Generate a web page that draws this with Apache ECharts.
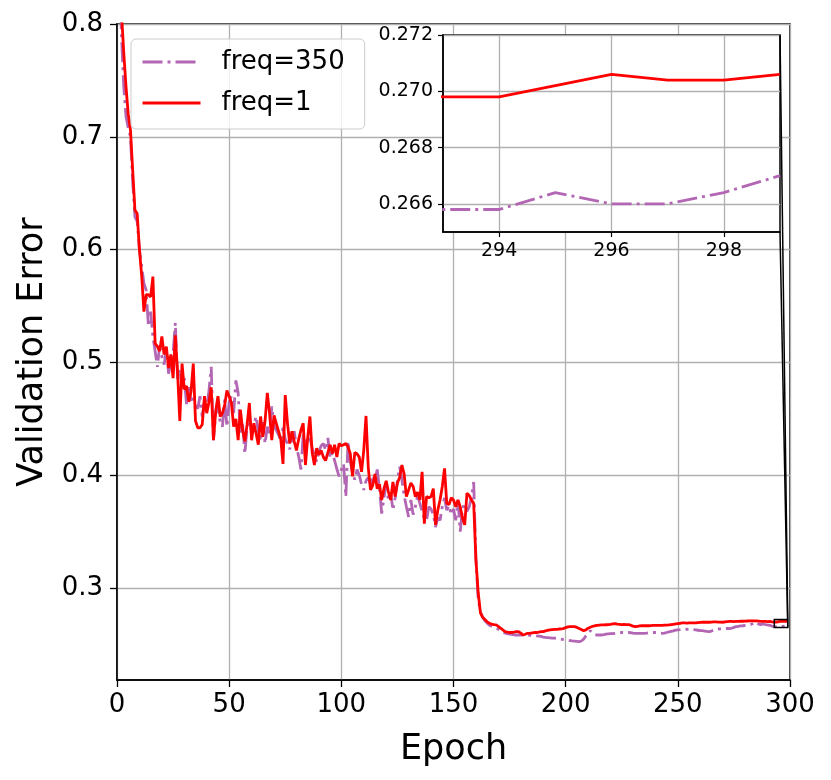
<!DOCTYPE html>
<html lang="en">
<head>
  <meta charset="UTF-8">
  <title>Validation Error</title>
  <style type="text/css">
    html, body { margin: 0; padding: 0; background: #fff; }
    #main { width: 831px; height: 780px; }
  </style>
</head>
<body>
  <div id="main"></div>
</body>
<script type="text/javascript" src="https://cdn.jsdelivr.net/npm/echarts@6/dist/echarts.min.js"></script>
<script type="text/javascript">
  // validation error per epoch (index = epoch)
  var freq350 = [
    0.93, 0.85, 0.79, 0.745, 0.718, 0.708, 0.70, 0.66, 0.629, 0.625,
    0.60, 0.585, 0.570, 0.564, 0.532, 0.545, 0.523, 0.510, 0.496, 0.515,
    0.505, 0.498, 0.512, 0.490, 0.500, 0.508, 0.535, 0.485, 0.494, 0.477,
    0.486, 0.463, 0.478, 0.466, 0.471, 0.462, 0.459, 0.470, 0.452, 0.466,
    0.460, 0.475, 0.496, 0.431, 0.455, 0.462, 0.447, 0.443, 0.467, 0.443,
    0.465, 0.470, 0.455, 0.484, 0.473, 0.437, 0.445, 0.419, 0.443, 0.450,
    0.438, 0.445, 0.452, 0.438, 0.430, 0.447, 0.428, 0.443, 0.435, 0.461,
    0.444, 0.440, 0.436, 0.430, 0.442, 0.432, 0.428, 0.423, 0.432, 0.439,
    0.425, 0.4165, 0.405, 0.436, 0.430, 0.428, 0.433, 0.424, 0.418, 0.412,
    0.421, 0.426, 0.428, 0.422, 0.433, 0.415, 0.420, 0.413, 0.4055, 0.399,
    0.405, 0.410, 0.381, 0.430, 0.412, 0.402, 0.396, 0.405, 0.400, 0.392,
    0.387, 0.395, 0.398, 0.392, 0.400, 0.396, 0.405, 0.388, 0.366, 0.380,
    0.392, 0.378, 0.385, 0.369, 0.380, 0.395, 0.4075, 0.396, 0.382, 0.372,
    0.363, 0.378, 0.365, 0.372, 0.382, 0.375, 0.368, 0.361, 0.360, 0.372,
    0.370, 0.365, 0.354, 0.362, 0.360, 0.372, 0.380, 0.369, 0.373, 0.365,
    0.370, 0.360, 0.378, 0.350, 0.370, 0.375, 0.368, 0.372, 0.380, 0.394,
    0.325, 0.290, 0.279, 0.274, 0.271, 0.269, 0.267, 0.266, 0.265, 0.2645,
    0.2635, 0.2620, 0.2610, 0.2600, 0.2595, 0.2590, 0.2588, 0.2585, 0.2583, 0.2583,
    0.2585, 0.2583, 0.2583, 0.2582, 0.2580, 0.2578, 0.2577, 0.2575, 0.2573, 0.2570,
    0.2565, 0.2562, 0.2560, 0.2558, 0.2556, 0.2555, 0.2554, 0.2550, 0.2546, 0.2542,
    0.2539, 0.2536, 0.2533, 0.2530, 0.2528, 0.2526, 0.2524, 0.2530, 0.2546, 0.2575,
    0.2598, 0.2621, 0.2600, 0.2585, 0.2583, 0.2584, 0.2583, 0.2586, 0.2590, 0.2593,
    0.2595, 0.2596, 0.2598, 0.2600, 0.2603, 0.2605, 0.2605, 0.2604, 0.2605, 0.2603,
    0.2600, 0.2598, 0.2598, 0.2597, 0.2598, 0.2598, 0.2600, 0.2603, 0.2605, 0.2605,
    0.2605, 0.2604, 0.2600, 0.2598, 0.2600, 0.2605, 0.2610, 0.2615, 0.2620, 0.2626,
    0.2628, 0.2630, 0.2633, 0.2633, 0.2634, 0.2633, 0.2632, 0.2630, 0.2628, 0.2625,
    0.2622, 0.2621, 0.2618, 0.2615, 0.2613, 0.2618, 0.2626, 0.2633, 0.2636, 0.2638,
    0.2640, 0.2640, 0.2641, 0.2640, 0.2643, 0.2650, 0.2657, 0.2660, 0.2663, 0.2665,
    0.2668, 0.2670, 0.2672, 0.2680, 0.2690, 0.2696, 0.2680, 0.2675, 0.2681, 0.2676,
    0.2672, 0.2669, 0.2662, 0.2658, 0.2658, 0.2664, 0.2660, 0.2660, 0.2664, 0.2670
  ]
  var freq1 = [
    0.92, 0.86, 0.81, 0.775, 0.745, 0.72, 0.706, 0.67, 0.635, 0.632,
    0.60, 0.577, 0.545, 0.560, 0.560, 0.558, 0.576, 0.517, 0.514, 0.510,
    0.523, 0.507, 0.514, 0.495, 0.507, 0.486, 0.524, 0.491, 0.448, 0.499,
    0.476, 0.479, 0.465, 0.474, 0.499, 0.448, 0.442, 0.442, 0.445, 0.470,
    0.455, 0.465, 0.478, 0.431, 0.457, 0.470, 0.452, 0.455, 0.462, 0.475,
    0.470, 0.464, 0.443, 0.450, 0.431, 0.458, 0.440, 0.430, 0.445, 0.464,
    0.431, 0.446, 0.437, 0.427, 0.452, 0.434, 0.448, 0.473, 0.455, 0.431,
    0.453, 0.446, 0.439, 0.432, 0.410, 0.471, 0.446, 0.428, 0.439, 0.430,
    0.422, 0.432, 0.440, 0.446, 0.409, 0.433, 0.452, 0.420, 0.409, 0.424,
    0.418, 0.422, 0.416, 0.413, 0.420, 0.427, 0.419, 0.427, 0.416, 0.428,
    0.426, 0.427, 0.428, 0.425, 0.419, 0.399, 0.420, 0.419, 0.416, 0.403,
    0.422, 0.4525, 0.407, 0.387, 0.391, 0.401, 0.388, 0.392, 0.378, 0.388,
    0.395, 0.385, 0.378, 0.394, 0.381, 0.393, 0.398, 0.409, 0.401, 0.381,
    0.387, 0.393, 0.390, 0.381, 0.385, 0.378, 0.403, 0.357, 0.381, 0.380,
    0.381, 0.388, 0.356, 0.369, 0.378, 0.390, 0.406, 0.375, 0.374, 0.380,
    0.378, 0.372, 0.378, 0.372, 0.362, 0.356, 0.384, 0.382, 0.378, 0.375,
    0.325, 0.296, 0.278, 0.274, 0.272, 0.270, 0.2687, 0.268, 0.2675, 0.2673,
    0.2660, 0.2643, 0.2628, 0.2613, 0.2608, 0.2605, 0.2605, 0.2608, 0.2612, 0.2613,
    0.2600, 0.2583, 0.2590, 0.2598, 0.2598, 0.2602, 0.2605, 0.2605, 0.2608, 0.2612,
    0.2613, 0.2620, 0.2625, 0.2628, 0.2630, 0.2632, 0.2633, 0.2636, 0.2638, 0.2640,
    0.2648, 0.2655, 0.2657, 0.2658, 0.2657, 0.2650, 0.2640, 0.2632, 0.2621, 0.2628,
    0.2643, 0.2652, 0.2660, 0.2665, 0.2668, 0.2670, 0.2672, 0.2673, 0.2674, 0.2675,
    0.2678, 0.2682, 0.2684, 0.2680, 0.2678, 0.2675, 0.2676, 0.2675, 0.2675, 0.2670,
    0.2662, 0.2657, 0.2660, 0.2663, 0.2665, 0.2665, 0.2666, 0.2665, 0.2666, 0.2668,
    0.2669, 0.2668, 0.2669, 0.2669, 0.2670, 0.2671, 0.2672, 0.2675, 0.2678, 0.2681,
    0.2684, 0.2687, 0.2690, 0.2690, 0.2689, 0.2690, 0.2691, 0.2690, 0.2690, 0.2693,
    0.2695, 0.2696, 0.2696, 0.2697, 0.2696, 0.2698, 0.2699, 0.2700, 0.2698, 0.2697,
    0.2696, 0.2699, 0.2702, 0.2703, 0.2703, 0.2702, 0.2703, 0.2704, 0.2705, 0.2705,
    0.2706, 0.2707, 0.2708, 0.2708, 0.2708, 0.2708, 0.2706, 0.2704, 0.2703, 0.2703,
    0.2702, 0.2703, 0.2700, 0.2698, 0.2698, 0.2702, 0.2706, 0.2704, 0.2704, 0.2706
  ]
  var yTicks = [0.3, 0.4, 0.5, 0.6, 0.7, 0.8]
  var insetX = [293, 299]
  var insetY = [0.265, 0.272]
  var insetXTicks = [294, 296, 298]
  var insetYTicks = [0.266, 0.268, 0.270, 0.272]

  var FONT = 'DejaVu Sans'
  var PURPLE = '#b366b3'
  var RED = '#ff0000'
  var DASHDOT = [20, 5, 3, 5]

  function pairs(arr) {
    return arr.map(function (v, i) { return [i, v] })
  }

  var myChart = echarts.init(document.getElementById('main'), null, { renderer: 'canvas' })

  var gridLine = { show: true, lineStyle: { color: '#b0b0b0', width: 1.3 } }
  var option = {
    animation: false,
    backgroundColor: '#fff',
    textStyle: { fontFamily: FONT },
    grid: [{
      left: 117, top: 24, width: 673, height: 656,
      show: true, borderColor: '#000', borderWidth: 1.5
    }, {
      left: 443, top: 35, width: 337, height: 197,
      show: true, backgroundColor: '#fff', borderColor: '#000', borderWidth: 1.5, z: 10
    }],
    legend: {
      orient: 'vertical',
      left: 131, top: 39,
      data: ['freq=350', 'freq=1'],
      backgroundColor: 'rgba(255,255,255,0.8)',
      borderColor: '#cccccc', borderWidth: 1, borderRadius: 5,
      padding: [10, 20, 13, 10],
      itemWidth: 58, itemHeight: 14, itemGap: 15,
      itemStyle: { opacity: 0 },
      lineStyle: { width: 3 },
      textStyle: { fontSize: 26, fontFamily: FONT, color: '#000', padding: [0, 0, 0, 16] },
      z: 20
    },
    xAxis: [{
      type: 'value', gridIndex: 0, min: 0, max: 300, interval: 50,
      name: 'Epoch', nameLocation: 'middle', nameGap: 52,
      nameTextStyle: { fontSize: 35, fontFamily: FONT, color: '#000' },
      axisLine: { show: true, onZero: false, lineStyle: { color: '#000', width: 1.5 } },
      axisTick: { show: true, length: 7, lineStyle: { color: '#000', width: 1.3 } },
      axisLabel: { fontSize: 26, fontFamily: FONT, color: '#000', margin: 12 },
      splitLine: gridLine
    }, {
      type: 'value', gridIndex: 1, min: insetX[0], max: insetX[1], z: 11,
      axisLine: { show: true, onZero: false, lineStyle: { color: '#000', width: 1.5 } },
      axisTick: { show: true, length: 5, customValues: insetXTicks, lineStyle: { color: '#000', width: 1.2 } },
      axisLabel: { fontSize: 19, fontFamily: FONT, color: '#000', margin: 10, customValues: insetXTicks },
      splitLine: gridLine
    }],
    yAxis: [{
      type: 'value', gridIndex: 0, min: 0.2184, max: 0.8,
      name: 'Validation Error', nameLocation: 'middle', nameGap: 67, nameRotate: 90,
      nameTextStyle: { fontSize: 35, fontFamily: FONT, color: '#000' },
      axisLine: { show: true, onZero: false, lineStyle: { color: '#000', width: 1.5 } },
      axisTick: { show: true, length: 7, customValues: yTicks, lineStyle: { color: '#000', width: 1.3 } },
      axisLabel: { fontSize: 26, fontFamily: FONT, color: '#000', margin: 14, customValues: yTicks },
      splitLine: gridLine
    }, {
      type: 'value', gridIndex: 1, min: insetY[0], max: insetY[1], z: 11,
      axisLine: { show: true, onZero: false, lineStyle: { color: '#000', width: 1.5 } },
      axisTick: { show: true, length: 5, customValues: insetYTicks, lineStyle: { color: '#000', width: 1.2 } },
      axisLabel: {
        fontSize: 19, fontFamily: FONT, color: '#000', margin: 10, customValues: insetYTicks,
        formatter: function (v) { return v.toFixed(3) }
      },
      splitLine: gridLine
    }],
    series: [{
      name: 'freq=350', type: 'line', xAxisIndex: 0, yAxisIndex: 0,
      data: pairs(freq350), symbol: 'none', clip: true,
      lineStyle: { color: PURPLE, width: 2.8, type: DASHDOT }, itemStyle: { color: PURPLE }
    }, {
      name: 'freq=1', type: 'line', xAxisIndex: 0, yAxisIndex: 0,
      data: pairs(freq1), symbol: 'none', clip: true,
      lineStyle: { color: RED, width: 2.8 }, itemStyle: { color: RED }
    }, {
      name: 'freq=350', type: 'line', xAxisIndex: 1, yAxisIndex: 1, z: 12,
      data: pairs(freq350), symbol: 'none', clip: true,
      lineStyle: { color: PURPLE, width: 2.8, type: DASHDOT }, itemStyle: { color: PURPLE }
    }, {
      name: 'freq=1', type: 'line', xAxisIndex: 1, yAxisIndex: 1, z: 12,
      data: pairs(freq1), symbol: 'none', clip: true,
      lineStyle: { color: RED, width: 2.8 }, itemStyle: { color: RED }
    }]
  }
  myChart.setOption(option)

  // zoom box in the main plot and the two connector lines to the inset
  var b0 = myChart.convertToPixel({ gridIndex: 0 }, [insetX[0], insetY[1]])
  var b1 = myChart.convertToPixel({ gridIndex: 0 }, [insetX[1], insetY[0]])
  var i0 = myChart.convertToPixel({ gridIndex: 1 }, [insetX[1], insetY[1]])
  var i1 = myChart.convertToPixel({ gridIndex: 1 }, [insetX[1], insetY[0]])
  var edge = { stroke: '#000', lineWidth: 1.5, fill: null }
  myChart.setOption({
    graphic: [{
      type: 'rect', z: 15,
      shape: { x: b0[0], y: b0[1], width: b1[0] - b0[0], height: b1[1] - b0[1] },
      style: edge
    }, {
      type: 'line', z: 15,
      shape: { x1: i0[0], y1: i0[1], x2: b1[0], y2: b0[1] },
      style: edge
    }, {
      type: 'line', z: 15,
      shape: { x1: i1[0], y1: i1[1], x2: b1[0], y2: b1[1] },
      style: edge
    }]
  })
</script>
</html>
